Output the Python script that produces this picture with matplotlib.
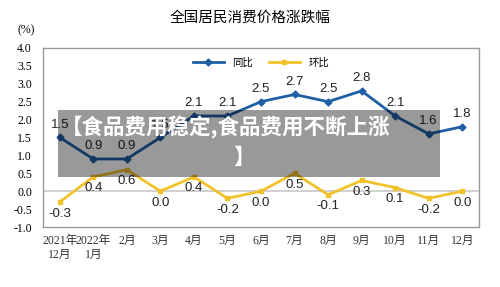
import matplotlib.pyplot as plt
from matplotlib.patches import Rectangle

months = ["2021年\n12月", "2022年\n1月", "2月", "3月", "4月", "5月", "6月",
          "7月", "8月", "9月", "10月", "11月", "12月"]
yoy = [1.5, 0.9, 0.9, 1.5, 2.1, 2.1, 2.5, 2.7, 2.5, 2.8, 2.1, 1.6, 1.8]
mom = [-0.3, 0.4, 0.6, 0.0, 0.4, -0.2, 0.0, 0.5, -0.1, 0.3, 0.1, -0.2, 0.0]
yticks = [-1.0, -0.5, 0.0, 0.5, 1.0, 1.5, 2.0, 2.5, 3.0, 3.5, 4.0]

cjk = ["Noto Sans CJK SC", "DejaVu Sans"]
serif = ["Liberation Serif", "Noto Sans CJK SC"]
blue = "#1f5fa6"
yellow = "#f2c22a"

fig = plt.figure(figsize=(5, 2.87), dpi=100)
ax = fig.add_axes([0.086, 0.209, 0.872, 0.624])
x = list(range(len(months)))

ax.axhline(0, color="#c8c8c8", linewidth=1.2, zorder=1)
ax.plot(x, yoy, color=blue, linewidth=2, marker="D", markersize=3.5, label="同比", zorder=3)
ax.plot(x, mom, color=yellow, linewidth=2, marker="s", markersize=3.5, label="环比", zorder=3)

for i, v in enumerate(yoy):
    ax.annotate(f"{v:.1f}", (i, v), xytext=(0, 5), textcoords="offset points",
                ha="center", va="bottom", fontsize=9.5, family="Liberation Sans", color="#222222")
for i, v in enumerate(mom):
    ax.annotate(f"{v:.1f}", (i, v), xytext=(0, -4), textcoords="offset points",
                ha="center", va="top", fontsize=9.5, family="Liberation Sans", color="#222222")

ax.set_xlim(-0.5, len(months) - 0.5)
ax.set_ylim(-1.0, 4.0)
ax.set_yticks(yticks)
ax.set_yticklabels([f"{t:.1f}" for t in yticks], family=serif, fontsize=8.5)
ax.set_xticks(x)
ax.set_xticklabels(months, family=serif, fontsize=8.5, color="#333333")
ax.tick_params(axis="both", length=0, pad=8)
ax.tick_params(axis="x", pad=6)
for s in ax.spines.values():
    s.set_color("#999999")
    s.set_linewidth(1)

leg = ax.legend(loc="upper center", bbox_to_anchor=(0.5, 1.0), ncol=2, frameon=False,
                prop={"family": cjk, "size": 7.5}, handlelength=3, columnspacing=1.5)

fig.text(0.5, 0.938, "全国居民消费价格涨跌幅", ha="center", va="center", family=cjk, fontsize=10.5)
fig.text(0.036, 0.895, "(%)", ha="left", va="center", family=serif, fontsize=8.5)

# semi-transparent caption box over the chart
fig.patches.append(Rectangle((0.116, 0.383), 0.764, 0.233, transform=fig.transFigure,
                             facecolor="black", alpha=0.4, edgecolor="none", zorder=5))
fig.text(0.122, 0.555, "【食品费用稳定,食品费用不断上涨", ha="left", va="center",
         family=cjk, fontsize=15.5, fontweight="bold", color="white", zorder=6)
fig.text(0.488, 0.452, "】", ha="center", va="center",
         family=cjk, fontsize=15.5, fontweight="bold", color="white", zorder=6)

fig.savefig("out.png", dpi=100)
